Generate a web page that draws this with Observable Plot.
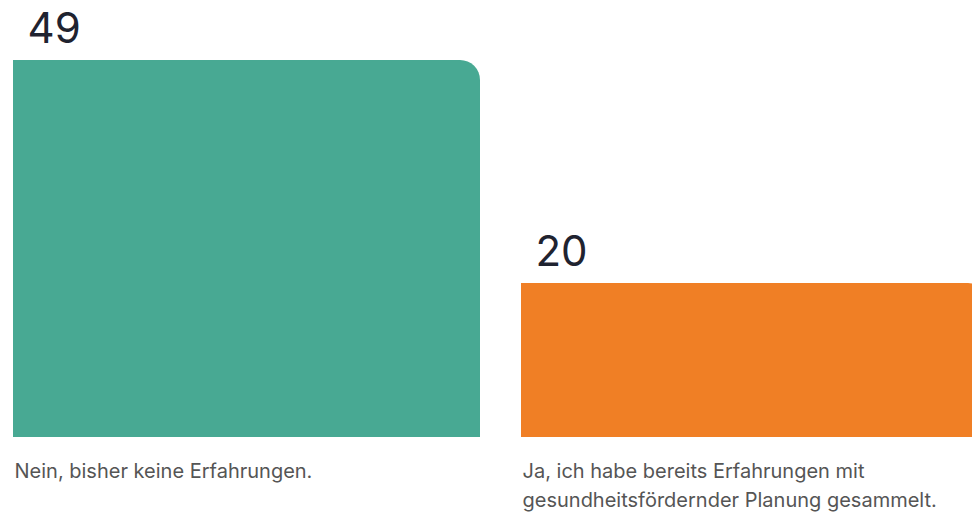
<!DOCTYPE html>
<html>
<head>
<meta charset="utf-8">
<script src="https://cdn.jsdelivr.net/npm/d3@7"></script>
<script src="https://cdn.jsdelivr.net/npm/@observablehq/plot@0.6"></script>
<style>
  html, body { margin: 0; padding: 0; background: #fff; overflow: hidden; width: 972px; height: 516px; }
  #chart svg { display: block; max-width: none !important; }
</style>
</head>
<body>
<div id="chart"></div>
<script>
const categories = ["Nein", "Ja"];
const values = [49, 20];
const labels = [
  "Nein, bisher keine Erfahrungen.",
  "Ja, ich habe bereits Erfahrungen mit\ngesundheitsfördernder Planung gesammelt."
];
const colors = ["#48A993", "#F07F25"];

const data = categories.map((c, i) => ({cat: c, value: values[i], label: labels[i], color: colors[i]}));

const W = 1000, H = 516;
const bandW = 467;

const chart = Plot.plot({
  width: W,
  height: H,
  marginTop: 60,
  marginBottom: 79,
  marginLeft: 13,
  marginRight: 12,
  x: {domain: categories, range: [13, 988], paddingInner: 41 / 508, paddingOuter: 0, axis: null},
  y: {domain: [0, 49], axis: null},
  style: {fontFamily: "Inter, 'Noto Sans', sans-serif", background: "#fff", maxWidth: "none"},
  marks: [
    Plot.barY(data, {x: "cat", y: "value", fill: "color", rx2y1: 20}),
    Plot.text(data, {x: "cat", y: "value", text: d => String(d.value), dx: -bandW / 2 + 14, dy: -18,
      textAnchor: "start", lineAnchor: "bottom", fontSize: 42, fill: "#1f2330"}),
    Plot.text(data, {x: "cat", y: 0, text: "label", dx: -bandW / 2 + 1, dy: 19,
      textAnchor: "start", lineAnchor: "top", fontSize: 20, lineHeight: 1.48, fill: "#555"})
  ]
});
document.getElementById("chart").appendChild(chart);
</script>
</body>
</html>
